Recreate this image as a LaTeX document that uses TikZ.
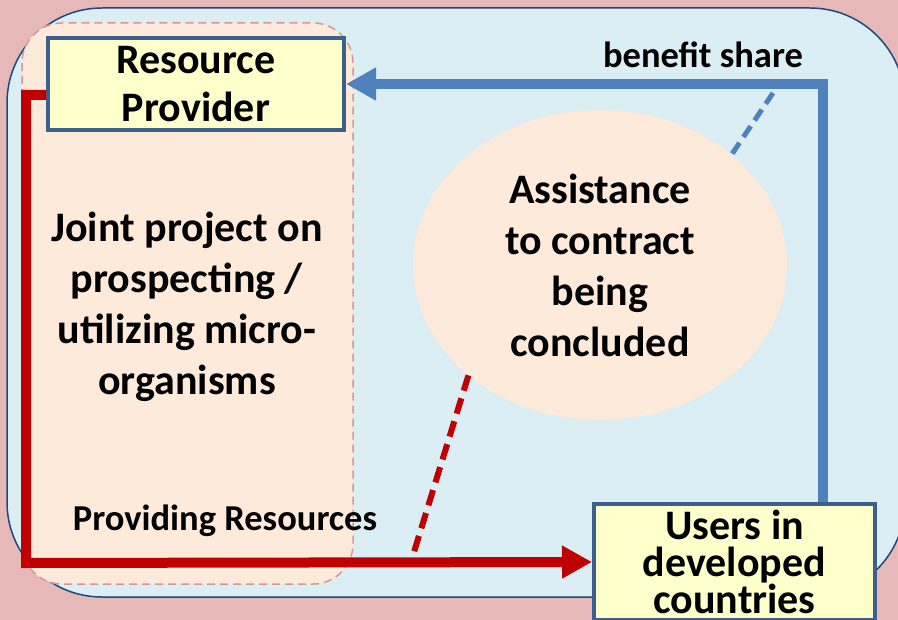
\documentclass[tikz,border=0pt]{standalone}
\usepackage{fontspec}
\setmainfont{Carlito}
\usepackage{tikz}
\usetikzlibrary{shapes.geometric, arrows.meta}
\definecolor{bgPink}{RGB}{230, 185, 184}
\definecolor{skyLight}{RGB}{219, 238, 244}
\definecolor{frameBlue}{RGB}{31, 73, 125}
\definecolor{peach}{RGB}{253, 234, 218}
\definecolor{dashPink}{RGB}{217, 150, 148}
\definecolor{boxFill}{RGB}{255, 255, 204}
\definecolor{boxEdge}{RGB}{60, 95, 140}
\definecolor{redFlow}{RGB}{192, 0, 0}
\definecolor{blueFlow}{RGB}{79, 129, 189}
\tikzset{
    base/.style={
        font=\bfseries,
        align=center,
        text=black
    },
    party/.style={
        base,
        rectangle,
        draw=boxEdge,
        line width=4pt,
        fill=boxFill,
        inner sep=0pt,
        font=\fontsize{42}{48}\selectfont\bfseries
    },
    bubble/.style={
        base,
        ellipse,
        fill=peach,
        inner sep=0pt,
        minimum width=374pt,
        minimum height=310pt,
        font=\fontsize{42}{51}\selectfont\bfseries
    },
    tag/.style={
        base,
        inner sep=0pt,
        font=\fontsize{36.5}{40}\selectfont\bfseries
    },
    supply/.style={
        -{Triangle[length=30pt, width=31pt]},
        line width=10pt,
        color=redFlow
    },
    share/.style={
        -{Triangle[length=30pt, width=31pt]},
        line width=10pt,
        color=blueFlow
    },
    hint/.style={
        dashed,
        dash pattern=on 16pt off 8pt
    }
}
\begin{document}
\begin{tikzpicture}[x=1pt, y=-1pt]
  \useasboundingbox (0,0) rectangle (898,620);
  \fill[bgPink] (0,0) rectangle (898,620);

  % Frames
  \draw[frameBlue, fill=skyLight, line width=1.5pt, rounded corners=95pt] (7,8) rectangle (905,597);
  \draw[dashPink, fill=peach, line width=1.5pt, dash pattern=on 8pt off 5pt, rounded corners=40pt] (22,23) rectangle (353,584);

  % Parties
  \node[party, minimum width=296pt, minimum height=92pt] (provider) at (196,84) {Resource\\Provider};
  \node[party, minimum width=281pt, minimum height=116pt, font=\fontsize{42}{37}\selectfont\bfseries] (users) at (734.5,562) {Users in\\developed\\countries};
  \node[bubble] (assist) at (600,265) {Assistance\\to contract\\being\\concluded};
  \node[base, font=\fontsize{42}{51}\selectfont\bfseries] (joint) at (187,307) {Joint project on\\prospecting /\\utilizing micro-\\organisms};

  % Flows
  \coordinate (redCorner) at (26,563);
  \coordinate (blueCorner) at (823,83);
  \draw[supply] ([yshift=-11pt]provider.west) -| (redCorner) -- (users.west);
  \draw[share] (users.north -| blueCorner) |- (provider.east);

  \node[tag] (shareText) at (703,55) {benefit share};
  \node[tag] (supplyText) at (225,521) {Providing Resources};

  % Hints
  \coordinate (shareHint) at (773,93);
  \coordinate (supplyHint) at (414,552);
  \draw[hint, blueFlow, line width=5pt, dash pattern=on 13pt off 7pt] (shareHint) -- (assist.40);
  \draw[hint, redFlow, line width=6pt] (assist.220) -- (supplyHint);
\end{tikzpicture}
\end{document}
